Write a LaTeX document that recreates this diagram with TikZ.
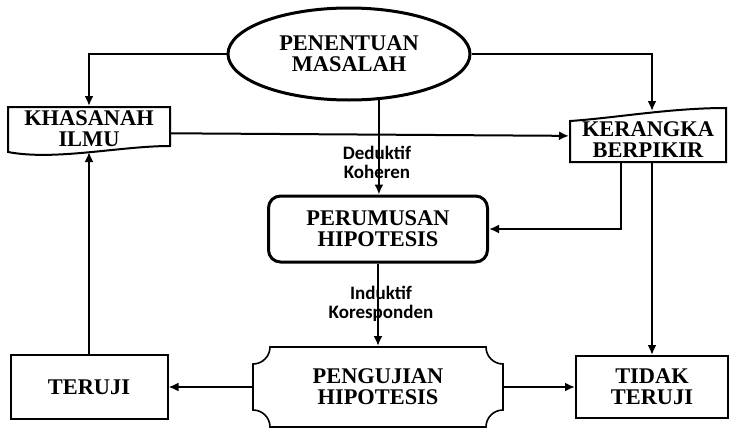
\documentclass[tikz,border=0pt]{standalone}
\usepackage{fontspec}
\setmainfont{Liberation Serif}
\newfontfamily\notefont{Carlito}
\usetikzlibrary{arrows.meta,shapes.geometric}

\begin{document}
\begin{tikzpicture}[->,>={Latex[length=5pt,width=4.5pt]},x=0.5pt,y=-0.5pt,line width=1pt,
                    every node/.style={align=center,inner sep=0pt,
                      font=\fontsize{11.2}{10.5}\selectfont\bfseries},
                    outline/.style={-,line width=1pt},
                    note/.style={font=\notefont\fontsize{9.5}{9.5}\selectfont\bfseries}]
  \useasboundingbox (0,0) rectangle (730,429);

  \node[ellipse,draw,line width=1.5pt,minimum width=121pt,minimum height=46pt]
        (masalah) at (349,54) {PENENTUAN\\MASALAH};
  \node[minimum width=81pt,minimum height=22pt] (ilmu) at (89,129) {KHASANAH\\ILMU};
  \node[minimum width=78pt,minimum height=22pt] (kerangka) at (648,140) {KERANGKA\\BERPIKIR};
  \node[draw,rounded corners=6pt,line width=1.5pt,minimum width=109.5pt,minimum height=33pt]
        (rumus) at (378,229) {PERUMUSAN\\HIPOTESIS};
  \node[minimum width=125pt,minimum height=40pt] (uji) at (378,387) {PENGUJIAN\\HIPOTESIS};
  \node[draw,minimum width=78.5pt,minimum height=32pt] (teruji) at (89,387) {TERUJI};
  \node[draw,minimum width=76pt,minimum height=31pt] (tidak) at (652,387) {TIDAK\\TERUJI};
  \node[note] (deduktif) at (377,162) {Deduktif\\Koheren};
  \node[note] (induktif) at (381,304) {Induktif\\Koresponden};
  \path (kerangka.north -| tidak.north) ++(0,-6) coordinate (kertop);

  % document shapes and the plaque
  \draw[outline] (8,107) -- (170,107) -- (170,146)
        .. controls (120,146) and (55,161) .. (8,152) -- cycle;
  \draw[outline] (570,162) -- (570,121)
        .. controls (615,118) and (670,108) .. (726,108) -- (726,162) -- cycle;
  \draw[outline,line width=0.8pt] (270,347) -- (486,347)
        .. controls (486,356.4) and (493.6,364) .. (503,364) -- (503,410)
        .. controls (493.6,410) and (486,417.6) .. (486,427) -- (270,427)
        .. controls (270,417.6) and (262.4,410) .. (253,410) -- (253,364)
        .. controls (262.4,364) and (270,356.4) .. (270,347) -- cycle;

  \draw (masalah.west) -| (ilmu.north);
  \draw (masalah.east) -| (kertop);
  \draw (masalah.-57) -- (masalah.-57 |- rumus.north);
  \draw (ilmu.-3) -- (kerangka.177);
  \draw ([xshift=-13.5pt]kerangka.south) |- (rumus.east);
  \draw (kerangka.south -| tidak.north) -- (tidak.north);
  \draw (rumus.south) -- (uji.north);
  \draw (uji.west) -- (teruji.east);
  \draw (uji.east) -- (tidak.west);
  \draw (teruji.north) -- (ilmu.south);
\end{tikzpicture}
\end{document}
